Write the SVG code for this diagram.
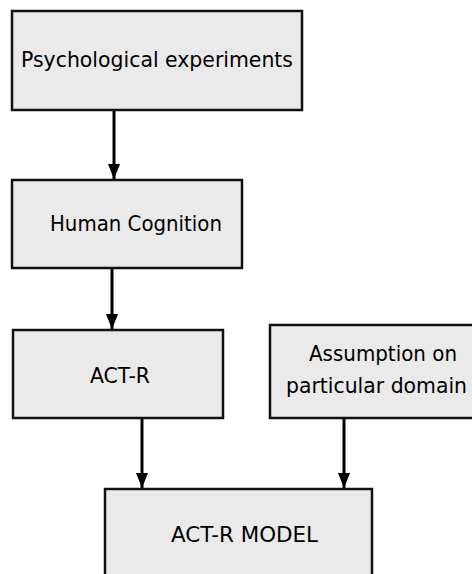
<svg xmlns="http://www.w3.org/2000/svg" width="472" height="574" viewBox="0 0 472 574">
<style>
.box{fill:#eaeaea;stroke:#111;stroke-width:2.5}
.lbl{font-family:"DejaVu Sans",sans-serif;font-size:21px;fill:#000}
.conn{stroke:#000;stroke-width:3;fill:none}
</style>
<defs>
<marker id="ah" markerUnits="userSpaceOnUse" markerWidth="15" markerHeight="12" refX="15" refY="6" orient="auto">
<path d="M0,0 L15,6 L0,12 Z" fill="#000"/>
</marker>
</defs>
<rect width="472" height="574" fill="#fff"/>
<g id="connectors">
<line class="conn" x1="114" y1="110" x2="114" y2="179" marker-end="url(#ah)"/>
<line class="conn" x1="112" y1="268" x2="112" y2="329" marker-end="url(#ah)"/>
<line class="conn" x1="142" y1="418" x2="142" y2="488" marker-end="url(#ah)"/>
<line class="conn" x1="344" y1="418" x2="344" y2="488" marker-end="url(#ah)"/>
</g>
<g id="psych">
<rect class="box" x="12" y="11" width="290" height="99"/>
<text class="lbl" x="21" y="67" textLength="272" lengthAdjust="spacingAndGlyphs">Psychological experiments</text>
</g>
<g id="human">
<rect class="box" x="12" y="180" width="230" height="88"/>
<text class="lbl" x="50" y="231" textLength="172" lengthAdjust="spacingAndGlyphs">Human Cognition</text>
</g>
<g id="actr">
<rect class="box" x="13" y="330" width="210" height="88"/>
<text class="lbl" x="90" y="383" textLength="60" lengthAdjust="spacingAndGlyphs">ACT-R</text>
</g>
<g id="assumption">
<rect class="box" x="270" y="325" width="215" height="93"/>
<text class="lbl" x="309" y="361" textLength="148" lengthAdjust="spacingAndGlyphs">Assumption on</text>
<text class="lbl" x="286" y="393" textLength="181" lengthAdjust="spacingAndGlyphs">particular domain</text>
</g>
<g id="model">
<rect class="box" x="105" y="489" width="267" height="100"/>
<text class="lbl" x="171" y="542" textLength="147" lengthAdjust="spacingAndGlyphs">ACT-R MODEL</text>
</g>
</svg>
